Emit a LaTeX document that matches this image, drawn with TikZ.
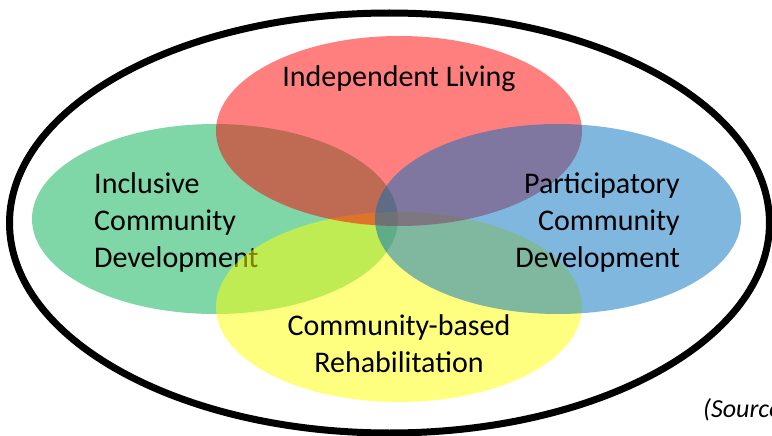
\documentclass[tikz,border=0pt]{standalone}
\usepackage{fontspec}
\setmainfont{Carlito}
\definecolor{cgreen}{RGB}{0,176,80}
\definecolor{cred}{RGB}{255,0,0}
\definecolor{cblue}{RGB}{0,112,192}
\definecolor{cyellow}{RGB}{255,255,0}
\begin{document}
\begin{tikzpicture}[x=1pt,y=-1pt,
  petal/.style={fill opacity=0.5, draw=none},
  lbl/.style={inner sep=0pt, font=\fontsize{30}{37}\selectfont, text=black}]
\useasboundingbox (0,0) rectangle (772,436);
\clip (0,0) rectangle (772,436);
% outer ellipse
\draw[line width=7pt] (389.5,223) ellipse [x radius=380, y radius=210];
% green
\fill[petal, cgreen] (215,219) ellipse [x radius=183, y radius=95];
\node[lbl, anchor=base west] (g1) at (94,193) {Inclusive};
\node[lbl, anchor=base west] (g2) at (94,230) {Community};
\node[lbl, anchor=base west] (g3) at (94,267) {Development};
% yellow
\fill[petal, cyellow] (399,307) ellipse [x radius=183, y radius=95];
\node[lbl, anchor=base] (y1) at (399,335) {Community-based};
\node[lbl, anchor=base] (y2) at (399,372) {Rehabilitation};
% red
\fill[petal, cred] (399,131) ellipse [x radius=183, y radius=95];
\node[lbl, anchor=base] (r1) at (399,87) {Independent Living};
% blue
\fill[petal, cblue] (558,219) ellipse [x radius=183, y radius=95];
\node[lbl, anchor=base east] (b1) at (680,193) {Participatory};
\node[lbl, anchor=base east] (b2) at (680,230) {Community};
\node[lbl, anchor=base east] (b3) at (680,267) {Development};
% source
\node[inner sep=0pt, anchor=base west, font=\fontsize{26}{30}\selectfont\itshape] (src) at (703,417) {(Source};
\end{tikzpicture}
\end{document}
